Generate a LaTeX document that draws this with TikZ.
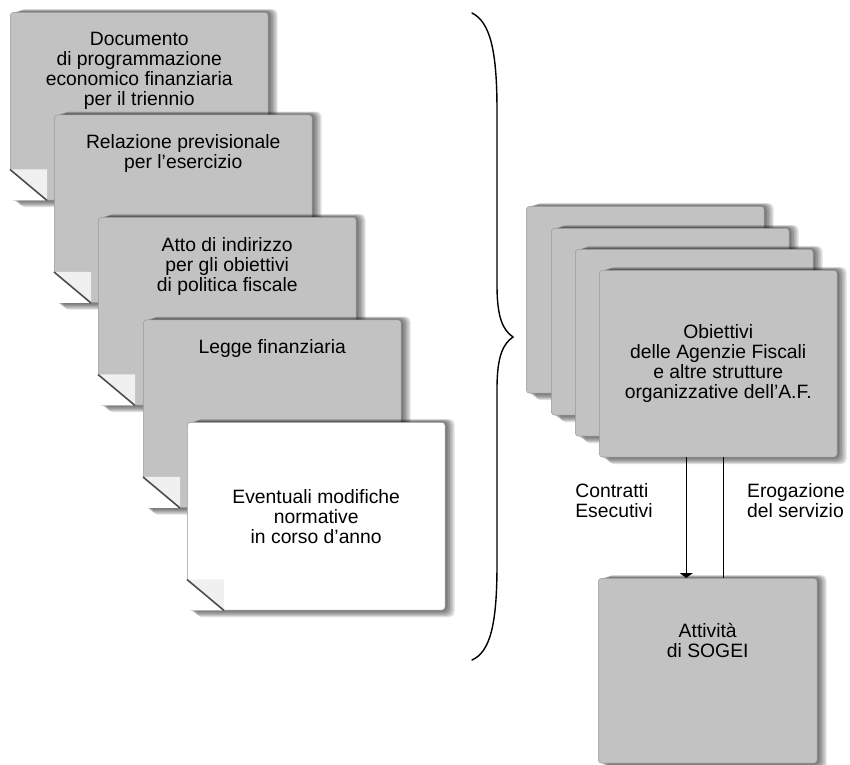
\documentclass[tikz,border=0pt]{standalone}
\usepackage{fontspec}
\setmainfont{Liberation Sans}
\usetikzlibrary{calc}
\usetikzlibrary{positioning}
\usetikzlibrary{arrows.meta}

\definecolor{paper}{gray}{0.76}

% soft shadow behind a sheet: x, y, width, height (pixel units)
\newcommand{\sheetshadow}[4]{%
  \foreach \k in {1,...,6}
    \fill[black, opacity=.12, rounded corners=3pt] (#1+1.6*\k, #2-0.5*\k) rectangle ++(#3, #4+1.7*\k);
}

\begin{document}
\begin{tikzpicture}[x=0.02cm, y=-0.02cm,
    every node/.style={font=\fontsize{11}{11.4}\selectfont, align=center, inner sep=0pt},
    sheet/.style={rectangle, draw=black!40, line width=0.3pt, fill=paper, rounded corners=2pt,
                  minimum width=5.16cm, minimum height=3.76cm, anchor=north west},
    card/.style={sheet, minimum width=4.76cm, minimum height=3.74cm},
    arr/.style={-{Triangle[length=1mm,width=2.6mm]}, line width=0.6pt}]
    \useasboundingbox (0,0) rectangle (850,765);

    % left stack of documents
    \foreach \i/\x/\y/\c in {1/10/12/paper, 2/54/114.5/paper, 3/98/217/paper, 4/143/319.5/paper, 5/187/422/white}{
        \sheetshadow{\x}{\y}{258}{188}
        \node[sheet, fill=\c] (s\i) at (\x,\y) {};
        \fill[white] (s\i.south west) -- ++(0,-31) -- ++(37,31) -- cycle;
        \fill[black!6] ($(s\i.south west)+(0,-31)$) -- ++(37,31) -- ++(0,-31) -- cycle;
        \draw[black!70, line width=0.9pt] ($(s\i.south west)+(0,-31)$) -- ++(37,31);
    }

    \node[below=0.4cm of s1.north] (t1) {Documento\\di programmazione\\economico finanziaria\\per il triennio};
    \node[below=0.4cm of s2.north] (t2) {Relazione previsionale\\per l'esercizio};
    \node[below=0.4cm of s3.north] (t3) {Atto di indirizzo\\per gli obiettivi\\di politica fiscale};
    \node[below=0.4cm of s4.north] (t4) {Legge finanziaria};
    \node at (s5.center) (t5) {Eventuali modifiche\\normative\\in corso d'anno};

    % brace
    \draw[line width=0.8pt, line cap=round] (472,13) .. controls (490,22) and (497,50) .. (497,110)
        -- (497,285) .. controls (497,318) and (503,330) .. (513,337)
        .. controls (503,344) and (497,356) .. (497,389)
        -- (497,565) .. controls (497,625) and (490,652) .. (472,660);

    % right stack of objectives
    \foreach \i/\x/\y in {1/526/206, 2/551/228, 3/575/249, 4/599/270}{
        \sheetshadow{\x}{\y}{238}{187}
        \node[card] (o\i) at (\x,\y) {};
    }
    \node at (o4.center) (obj) {Obiettivi\\delle Agenzie Fiscali\\e altre strutture\\organizzative dell'A.F.};

    \sheetshadow{598}{578}{219}{185}
    \node[card, minimum width=4.38cm, minimum height=3.7cm] (sogei) at (598,578) {};
    \node[below=0.9cm of sogei.north] (att) {Attivit\`a\\di SOGEI};

    % flows
    \coordinate (p1) at ($(o4.south)+(-32,0)$);
    \coordinate (p2) at ($(o4.south)+(5,0)$);
    \draw[arr] (p1) -- (p1 |- sogei.north);
    \draw[line width=0.6pt] (p2 |- sogei.north) -- (p2);
    \node[align=left] (ce) at (614,501) {Contratti\\Esecutivi};
    \node[align=left] (es) at (796,501) {Erogazione\\del servizio};
\end{tikzpicture}
\end{document}
